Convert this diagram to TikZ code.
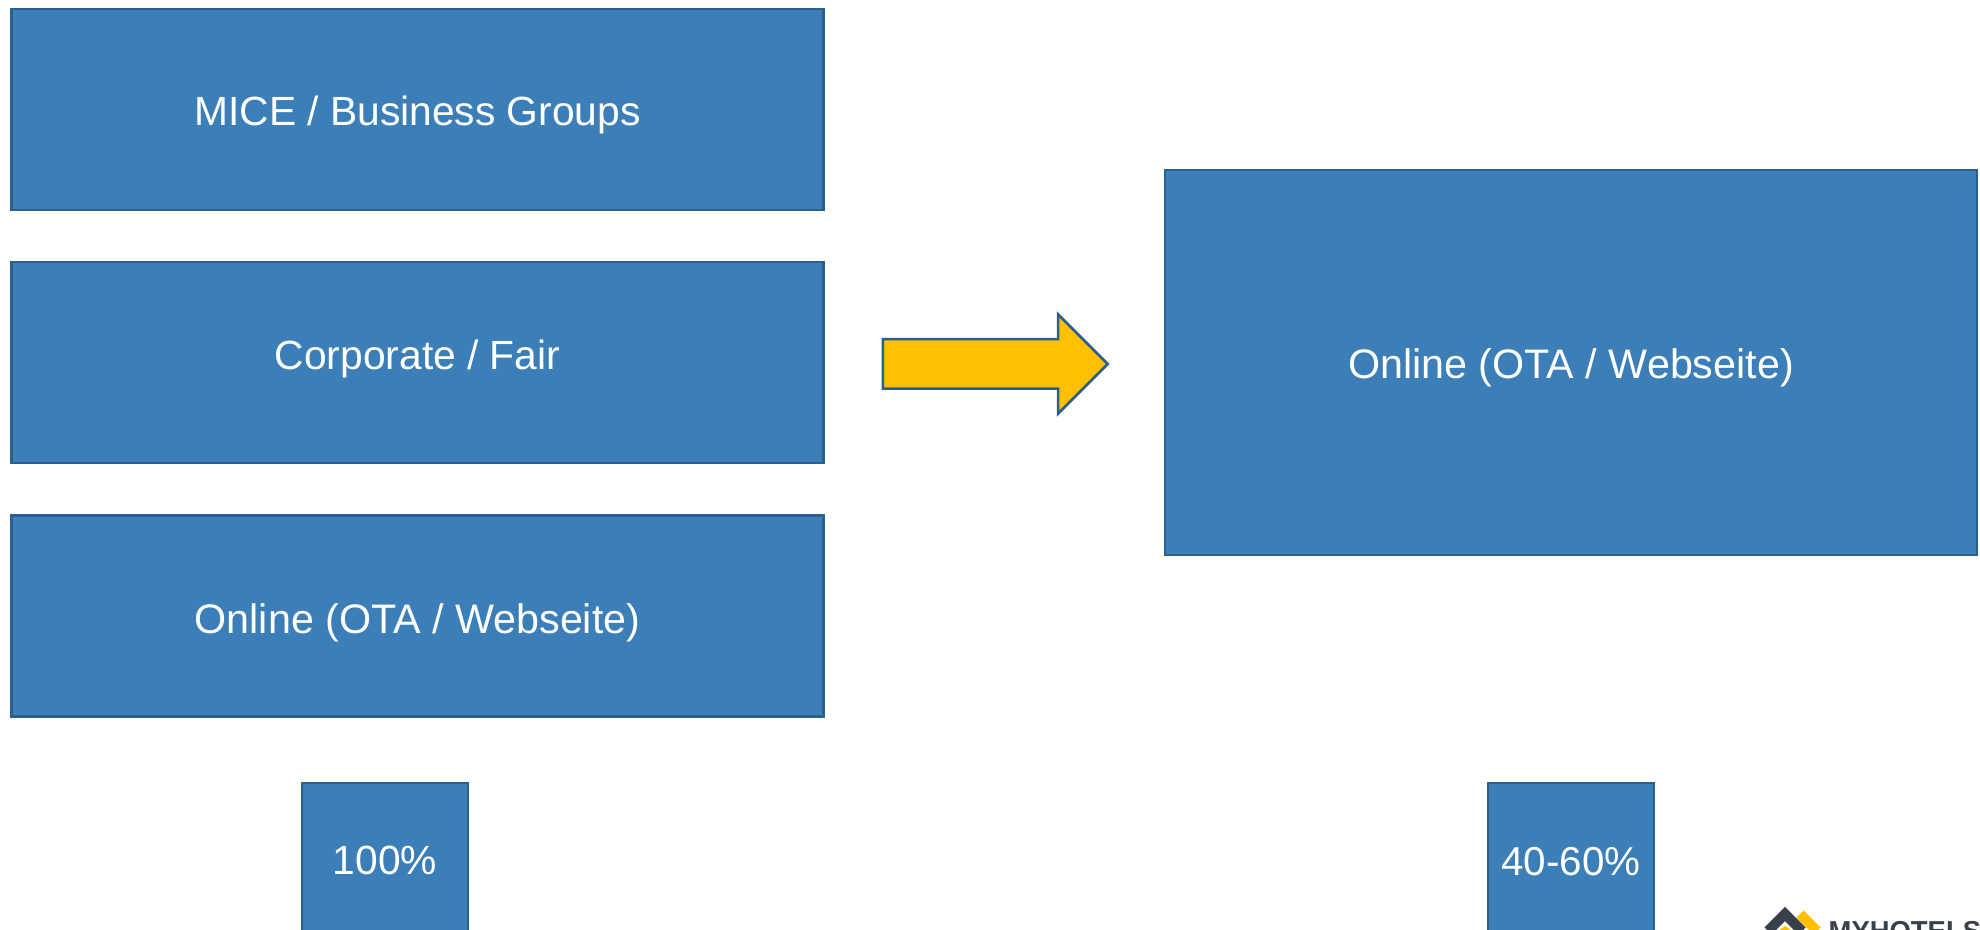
\documentclass[tikz,border=0pt]{standalone}
\usepackage{fontspec}
\setmainfont{Liberation Sans}
\usetikzlibrary{shapes.arrows}
\definecolor{boxblue}{HTML}{3B7EB8}
\definecolor{boxline}{HTML}{2A5F8E}
\definecolor{arrowyellow}{HTML}{FFC000}
\definecolor{logodark}{HTML}{3A404A}
\tikzset{
  boxtext/.style={text=white, inner sep=0pt, font=\fontsize{11.6pt}{14pt}\selectfont},
  bigbox/.style={draw=boxline, fill=boxblue, line width=.25mm,
    minimum width=8.12cm, minimum height=2.01cm},
  tallbox/.style={bigbox, minimum height=3.85cm},
  smallbox/.style={bigbox, minimum width=1.66cm, minimum height=1.54cm},
  bigarrow/.style={single arrow, draw=boxline, fill=arrowyellow, line width=.25mm,
    inner xsep=0pt, inner ysep=.235cm, minimum width=.97cm, minimum height=2.25cm,
    single arrow head extend=.25cm, single arrow head indent=0pt}
}
\begin{document}
\begin{tikzpicture}
    \clip (0,0) rectangle (19.8,9.29);
    %% Draw the left stack
    \node[bigbox, label={[boxtext, yshift=-.055cm]center:MICE / Business Groups}] (MICE) at (4.175,8.195) {};
    \node[bigbox, label={[boxtext, yshift=.035cm]center:Corporate / Fair}] (Corporate) at (4.175,5.665) {};
    \node[bigbox, label={[boxtext, yshift=-.065cm, scale=1.012]center:Online (OTA / Webseite)}] (Online) at (4.175,3.13) {};
    %% Draw the right box
    \node[tallbox, label={[boxtext, yshift=-.055cm, scale=1.012]center:Online (OTA / Webseite)}] (OnlineNew) at (15.71,5.665) {};
    %% Draw the shares
    \node[smallbox, label={[boxtext]center:100\%}] (Full) at (3.85,.69) {};
    \node[smallbox, label={[boxtext, yshift=-.015cm, scale=.99]center:40-60\%}] (Part) at (15.71,.69) {};
    %% Draw the arrow
    \node[bigarrow, anchor=tail] (Shift) at (8.815,5.65) {};
    %% Draw the logo
    \coordinate (LogoTop) at (17.85,.15);
    \draw[arrowyellow, line width=1mm] (18.00,.15) -- (18.17,-.02);
    \draw[logodark, line width=1mm] (17.68,-.02) -- (LogoTop) -- (18.02,-.02);
    \fill[arrowyellow] (17.78,-.02) -- (17.85,.03) -- (17.92,-.02) -- cycle;
    \node[logodark, anchor=base west, inner sep=0pt, font=\bfseries\fontsize{7.8pt}{10pt}\selectfont] (Logo) at (18.28,-.11) {MYHOTELSH};
\end{tikzpicture}
\end{document}
